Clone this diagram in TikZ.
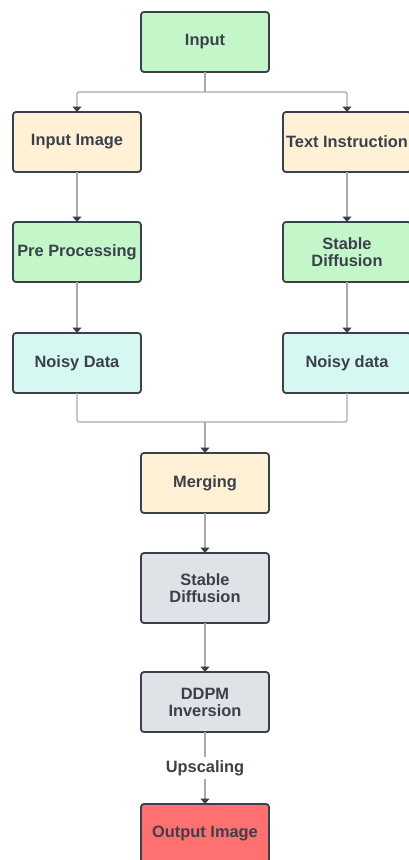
\documentclass[tikz,border=0pt]{standalone}
\usepackage{fontspec}
\setmainfont{Liberation Sans}
\usepackage{tikz}
\usepackage{xcolor}
\usetikzlibrary{arrows.meta, positioning}
\definecolor{edge}{HTML}{3A414A}
\definecolor{wire}{HTML}{A6AAAF}
\definecolor{mint}{HTML}{C3F6C8}
\definecolor{cream}{HTML}{FFF1D6}
\definecolor{aqua}{HTML}{D6F8F2}
\definecolor{slate}{HTML}{DFE2E7}
\definecolor{coral}{HTML}{FF7171}
\tikzstyle{block} = [rectangle, 
rounded corners=3pt, 
minimum width=128pt, 
minimum height=60pt, 
inner sep=2pt, 
outer sep=0pt, 
align=center, 
line width=1.8pt, 
draw=edge, 
text=edge, 
font=\fontsize{16.4}{17}\selectfont\bfseries]
\tikzstyle{arrow} = [line width=1.2pt, draw=wire, -{Triangle[width=9pt,length=5.5pt,color=edge]}]
\tikzstyle{wireline} = [line width=1.2pt, draw=wire]

\begin{document}
\begin{tikzpicture}[node distance=50pt]
        \useasboundingbox (0,0) rectangle (409pt,-860pt);
        % Nodos de entrada
        \node [block, fill=mint] (input) at (205pt,-42pt) {Input};
        \node [block, fill=cream] (inimg) at (77pt,-142pt) {Input Image};
        \node [block, fill=cream] (txt) at (347pt,-142pt) {Text Instruction};
        % Columna izquierda
        \node [block, fill=mint, below=50pt of inimg] (pre) {Pre Processing};
        \node [block, fill=aqua, below=51pt of pre] (noisyl) {Noisy Data};
        % Columna derecha
        \node [block, fill=mint, below=50pt of txt] (sdr) {Stable\\Diffusion};
        \node [block, fill=aqua, below=51pt of sdr] (noisyr) {Noisy data};
        % Columna central
        \node [block, fill=cream] (merging) at (205pt,-483pt) {Merging};
        \node [block, fill=slate, minimum height=70pt, below=40pt of merging] (sd) {Stable\\Diffusion};
        \node [block, fill=slate, below=49pt of sd] (ddpm) {DDPM\\Inversion};
        \node [block, fill=coral, below=72pt of ddpm] (out) {Output Image};

        \coordinate (split) at (205pt,-92pt);
        \coordinate (join) at (205pt,-422pt);

        % Conexiones
        \path [wireline] (input.south) -- (split);
        \path [arrow, rounded corners=2pt] (split) -| (inimg.north);
        \path [arrow, rounded corners=2pt] (split) -| (txt.north);
        \path [arrow] (inimg.south) -- (pre.north);
        \path [arrow] (pre.south) -- (noisyl.north);
        \path [arrow] (txt.south) -- (sdr.north);
        \path [arrow] (sdr.south) -- (noisyr.north);
        \path [wireline, rounded corners=2pt] (noisyl.south) |- (join);
        \path [wireline, rounded corners=2pt] (noisyr.south) |- (join);
        \path [arrow] (join) -- (merging.north);
        \path [arrow] (merging.south) -- (sd.north);
        \path [arrow] (sd.south) -- (ddpm.north);
        \path [arrow] (ddpm.south) -- node [fill=white, text=edge, inner sep=3pt, font=\fontsize{16.4}{17}\selectfont\bfseries] {Upscaling} (out.north);
    \end{tikzpicture}
\end{document}
